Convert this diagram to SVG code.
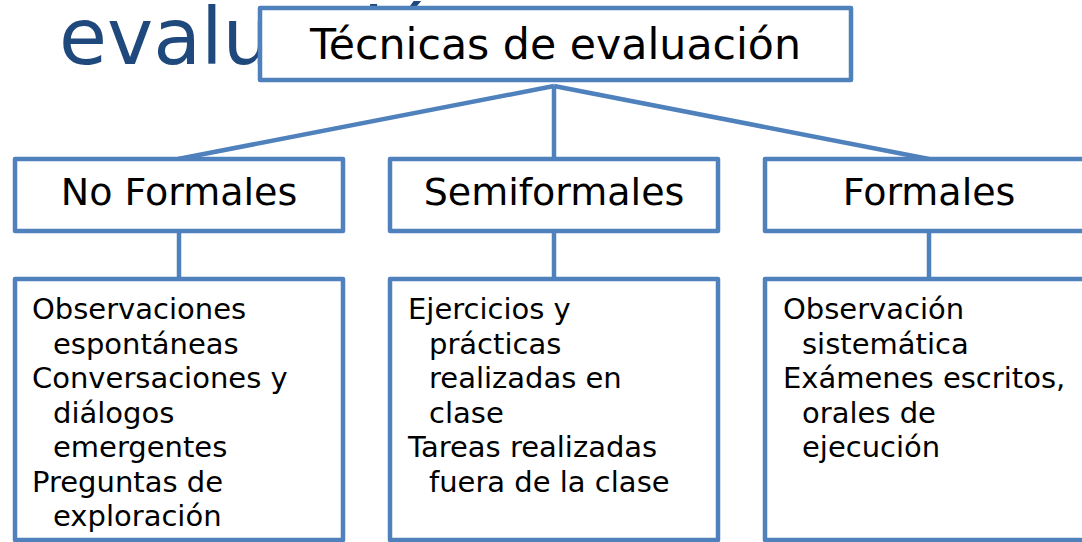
<svg xmlns="http://www.w3.org/2000/svg" width="1082" height="542" viewBox="0 0 1082 542">
  <style>
    .box { fill: #FFFFFF; stroke: #4F81BD; stroke-width: 4.5; stroke-linejoin: round; }
    .conn { stroke: #4F81BD; stroke-width: 4.5; fill: none; }
    .t { font-family: "DejaVu Sans", Verdana, sans-serif; fill: #000000; }
    .head { font-size: 42.7px; text-anchor: middle; }
    .cat { font-size: 38px; text-anchor: middle; }
    .body { font-size: 29px; }
    .title { font-family: "DejaVu Sans", Verdana, sans-serif; font-size: 78px; fill: #1F497D; }
  </style>
  <rect x="0" y="0" width="1082" height="542" fill="#FFFFFF"/>
  <text class="title" x="59" y="64">evaluación</text>

  <g id="connectors">
    <line class="conn" x1="554" y1="86" x2="178" y2="159"/>
    <line class="conn" x1="554" y1="86" x2="929" y2="159"/>
    <line class="conn" x1="554" y1="86" x2="554" y2="159" stroke-width="3.5"/>
    <line class="conn" x1="179" y1="231" x2="179" y2="279"/>
    <line class="conn" x1="554" y1="231" x2="554" y2="279"/>
    <line class="conn" x1="929" y1="231" x2="929" y2="279"/>
  </g>

  <g id="root">
    <rect class="box" x="260" y="8" width="591" height="72"/>
    <text class="t head" x="555.5" y="59">Técnicas de evaluación</text>
  </g>

  <g id="no-formales">
    <rect class="box" x="15" y="159" width="328" height="72"/>
    <text class="t cat" x="179" y="205">No Formales</text>
  </g>
  <g id="semiformales">
    <rect class="box" x="390" y="159" width="328" height="72"/>
    <text class="t cat" x="554" y="205">Semiformales</text>
  </g>
  <g id="formales">
    <rect class="box" x="765" y="159" width="328" height="72"/>
    <text class="t cat" x="929" y="205">Formales</text>
  </g>

  <g id="no-formales-items">
    <rect class="box" x="15" y="279" width="328" height="261"/>
    <text class="t body">
      <tspan x="32" y="319">Observaciones</tspan>
      <tspan x="53" y="353.5">espontáneas</tspan>
      <tspan x="32" y="388">Conversaciones y</tspan>
      <tspan x="53" y="422.5">diálogos</tspan>
      <tspan x="53" y="457">emergentes</tspan>
      <tspan x="32" y="491.5">Preguntas de</tspan>
      <tspan x="53" y="526">exploración</tspan>
    </text>
  </g>
  <g id="semiformales-items">
    <rect class="box" x="390" y="279" width="328" height="261"/>
    <text class="t body">
      <tspan x="408" y="319">Ejercicios y</tspan>
      <tspan x="429" y="353.5">prácticas</tspan>
      <tspan x="429" y="388">realizadas en</tspan>
      <tspan x="429" y="422.5">clase</tspan>
      <tspan x="408" y="457">Tareas realizadas</tspan>
      <tspan x="429" y="491.5">fuera de la clase</tspan>
    </text>
  </g>
  <g id="formales-items">
    <rect class="box" x="765" y="279" width="328" height="261"/>
    <text class="t body">
      <tspan x="783" y="319">Observación</tspan>
      <tspan x="802" y="353.5">sistemática</tspan>
      <tspan x="783" y="388">Exámenes escritos,</tspan>
      <tspan x="802" y="422.5">orales de</tspan>
      <tspan x="802" y="457">ejecución</tspan>
    </text>
  </g>
</svg>
